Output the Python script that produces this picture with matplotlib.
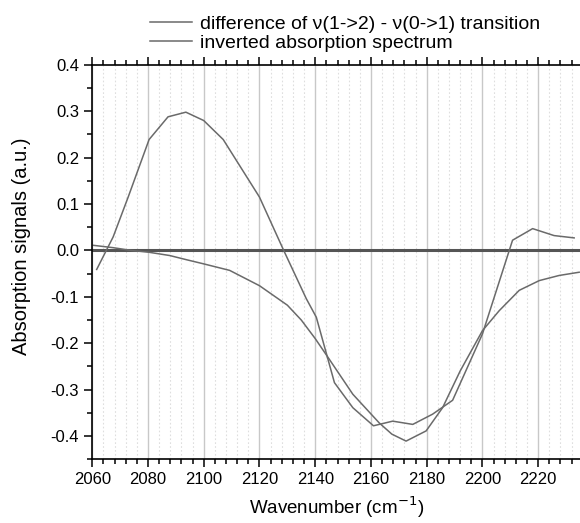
"""Difference spectrum vs inverted absorption spectrum (CO stretch region)."""

import matplotlib

matplotlib.use("Agg")
import matplotlib.pyplot as plt  # noqa: E402
from matplotlib.ticker import MultipleLocator  # noqa: E402

plt.rcParams["font.family"] = ["Liberation Sans", "DejaVu Sans"]

# difference of v(1->2) - v(0->1) transition
diff_x = [2061.6, 2067.5, 2072.9, 2080.4, 2087.2, 2093.6, 2100.0, 2107.0,
          2120.0, 2128.7, 2136.8, 2140.4, 2146.9, 2153.5, 2160.9, 2167.8,
          2175.0, 2182.1, 2189.3, 2200.0, 2210.8, 2218.0, 2225.7, 2232.9]
diff_y = [-0.041, 0.029, 0.115, 0.239, 0.288, 0.298, 0.280, 0.239,
          0.115, 0.000, -0.104, -0.144, -0.285, -0.339, -0.378, -0.368,
          -0.375, -0.353, -0.323, -0.180, 0.022, 0.047, 0.032, 0.027]

# inverted absorption spectrum
abs_x = [2060.4, 2067.4, 2074.0, 2080.4, 2087.8, 2093.8, 2100.0, 2109.3,
         2120.0, 2130.0, 2135.0, 2140.0, 2145.1, 2153.5, 2163.0, 2167.5,
         2172.6, 2179.8, 2185.7, 2192.0, 2200.0, 2206.0, 2213.2, 2220.4,
         2227.5, 2234.7]
abs_y = [0.011, 0.006, 0.000, -0.004, -0.011, -0.020, -0.029, -0.043,
         -0.076, -0.118, -0.150, -0.190, -0.235, -0.310, -0.372, -0.396,
         -0.411, -0.389, -0.339, -0.260, -0.173, -0.130, -0.086, -0.065,
         -0.054, -0.047]

LABELS = ["difference of \u03bd(1->2) - \u03bd(0->1) transition",
          "inverted absorption spectrum"]


def main() -> None:
    fig = plt.figure(figsize=(5.8, 5.23), dpi=100)
    ax = fig.add_axes([0.159, 0.122, 0.841, 0.754])

    ax.plot(diff_x, diff_y, color="#6a6a6a", lw=1.1, label=LABELS[0])
    ax.plot(abs_x, abs_y, color="#6a6a6a", lw=1.1, label=LABELS[1])
    ax.axhline(0, color="#555555", lw=2.2, zorder=1)

    ax.set_xlim(2060, 2235)
    ax.set_ylim(-0.45, 0.4)
    ax.xaxis.set_major_locator(MultipleLocator(20))
    ax.xaxis.set_minor_locator(MultipleLocator(4))
    ax.yaxis.set_minor_locator(MultipleLocator(0.05))
    ax.set_yticks([0.4, 0.3, 0.2, 0.1, 0.0, -0.1, -0.2, -0.3, -0.4])
    ax.set_yticklabels(["0.4", "0.3", "0.2", "0.1", "0.0", "-0.1", "-0.2", "-0.3", "-0.4"])

    ax.grid(True, which="major", axis="x", color="#c8c8c8", lw=1.0)
    ax.grid(True, which="minor", axis="x", color="#dedede", lw=0.8, ls=(0, (1.5, 2)))
    ax.set_axisbelow(True)

    ax.tick_params(which="both", direction="out", top=True, right=False,
                   labelsize=12, width=1.1, color="black")
    ax.tick_params(which="major", length=6)
    ax.tick_params(which="minor", length=3.5)
    for side in ("left", "bottom", "top"):
        ax.spines[side].set_linewidth(1.2)
    ax.spines["right"].set_visible(False)

    ax.set_xlabel("Wavenumber (cm$^{-1}$)", fontsize=13.5, labelpad=5)
    ax.set_ylabel("Absorption signals (a.u.)", fontsize=14.5)
    ax.yaxis.set_label_coords(-0.125, 0.54)

    fig.legend(loc="upper left", bbox_to_anchor=(0.231, 1.0), frameon=False,
               fontsize=14, handlelength=2.2, handletextpad=0.4,
               labelspacing=0.05, borderaxespad=0.4)

    fig.savefig("out.png", dpi=100)


if __name__ == "__main__":
    main()
